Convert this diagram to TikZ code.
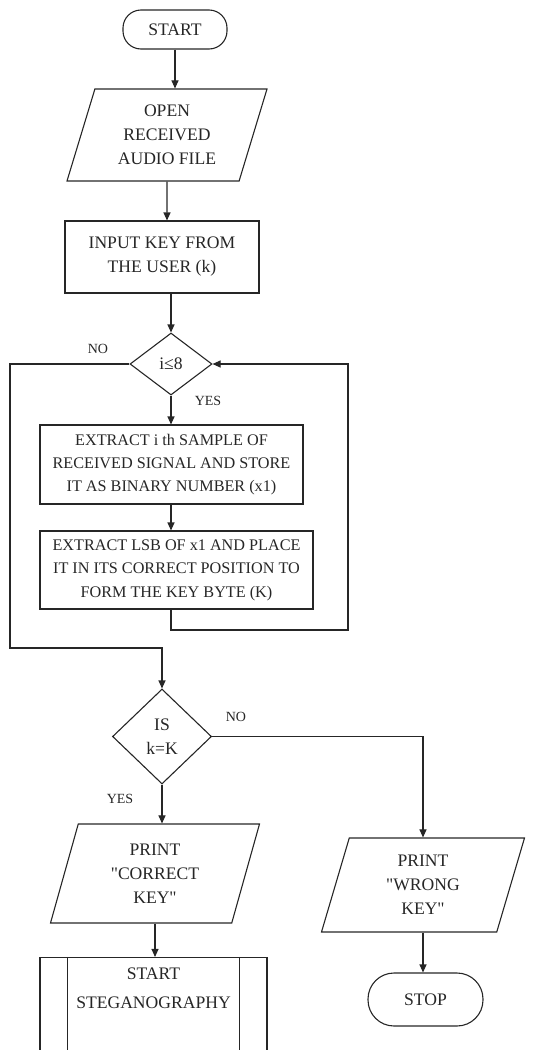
\documentclass[tikz,border=0pt]{standalone}
\usepackage{fontspec}
\setmainfont{Liberation Serif}[Ligatures=TeXOff]
\usetikzlibrary{positioning, calc, arrows.meta, shapes.geometric}

\begin{document}
\begin{tikzpicture}[
  x=0.5pt, y=-0.5pt,
  color=black!85,
  line width=0.55pt,
  every node/.style={font=\fontsize{8.8}{12}\selectfont, align=center},
  term/.style={draw, rectangle, rounded corners=#1, inner sep=0pt},
  proc/.style={draw, rectangle, inner sep=1pt},
  small/.style={font=\fontsize{8.1}{11.7}\selectfont},
  io/.style={draw, trapezium, trapezium left angle=65, trapezium right angle=115,
    trapezium stretches body, inner sep=0pt},
  dec/.style={draw, diamond, inner sep=0pt},
  arr/.style={-{Triangle[length=4pt,width=3.5pt]}},
  lbl/.style={font=\fontsize{7}{8}\selectfont},
]
\useasboundingbox (0,0) rectangle (537,1050);
\clip (0,0) rectangle (537,1050);

% Main column
\node[term=9pt, minimum width=52pt, minimum height=19.5pt] (start) at (175,29.5) {START};
\node[io, minimum width=100pt, minimum height=46pt] (openfile) at (167,135) {OPEN\\RECEIVED\\AUDIO FILE};
\node[proc, minimum width=97pt, minimum height=36pt] (inkey) at (162,257) {INPUT KEY FROM\\THE USER (k)};
\node[dec, minimum width=41pt, minimum height=31pt] (loopchk) at (171,364) {i≤8};
\node[proc, small, minimum width=131.5pt, minimum height=39.5pt] (extract) at (171.5,464.5) {EXTRACT i th SAMPLE OF\\RECEIVED SIGNAL AND STORE\\IT AS BINARY NUMBER (x1)};
\node[proc, small, minimum width=136.5pt, minimum height=39pt] (place) at (176.5,570) {EXTRACT LSB OF x1 AND PLACE\\IT IN ITS CORRECT POSITION TO\\FORM THE KEY BYTE (K)};
\node[dec, minimum width=49.5pt, minimum height=47.5pt] (cmpkey) at (162,736.5) {IS\\k=K};

% Branches
\node[io, minimum width=104.5pt, minimum height=49.5pt] (okmsg) at (155,873.5) {PRINT\\"CORRECT\\KEY"};
\node[io, minimum width=101.5pt, minimum height=47pt] (badmsg) at (423,885) {PRINT\\"WRONG\\KEY"};
\node[term=13pt, minimum width=57.5pt, minimum height=26.5pt] (stop) at (425.5,999.5) {STOP};
\node[proc, minimum width=113.5pt, minimum height=63pt] (stegbox) at (153.5,1020.5) {};
\draw ([xshift=14pt]stegbox.north west) -- ([xshift=14pt]stegbox.south west);
\draw ([xshift=-14pt]stegbox.north east) -- ([xshift=-14pt]stegbox.south east);
\node[font=\fontsize{8.8}{14.5}\selectfont] (steg) at (153.5,988) {START\\STEGANOGRAPHY};

% Labels
\node[lbl] (noA) at (98,349) {NO};
\node[lbl] (yesA) at (208,401) {YES};
\node[lbl] (noB) at (236,717) {NO};
\node[lbl] (yesB) at (120,799) {YES};

% Connectors
\coordinate (backR) at (348,630);
\coordinate (exitL) at (10,648);
\draw[arr] (start) -- (start |- openfile.north);
\draw[arr] (openfile) -- (openfile |- inkey.north);
\draw[arr] (inkey.south -| loopchk) -- (loopchk.north);
\draw[arr] (loopchk.south) -- (loopchk.south |- extract.north);
\draw[arr] (extract.south -| loopchk) -- (loopchk |- place.north);
\draw[arr] (place.south -| loopchk) |- (backR) |- (loopchk.east);
\draw[arr] (loopchk.west) -| (exitL) -| (cmpkey.north);
\draw[arr] (cmpkey.east) -| (badmsg.north);
\draw[arr] (cmpkey.south) -- (cmpkey.south |- okmsg.north);
\draw[arr] (okmsg.south) -- (okmsg.south |- stegbox.north);
\draw[arr] (badmsg.south) -- (badmsg.south |- stop.north);
\end{tikzpicture}
\end{document}
